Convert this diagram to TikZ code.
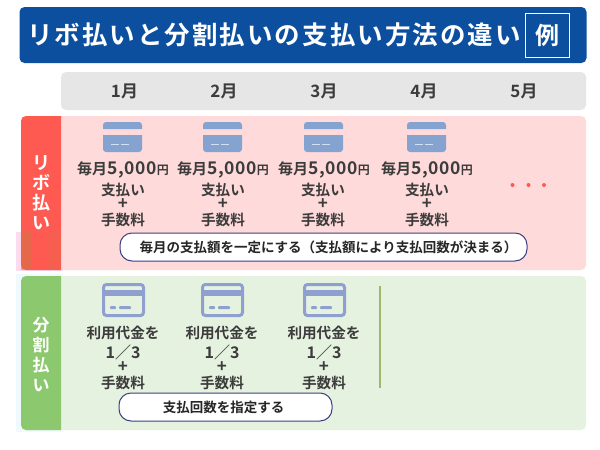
\documentclass[tikz,border=0pt]{standalone}
\usepackage{fontspec}
\setmainfont{Noto Sans CJK JP}[BoldFont={Noto Sans CJK JP Bold}]
\usetikzlibrary{positioning}
\definecolor{titleblue}{HTML}{0B4F9E}
\definecolor{monthgray}{HTML}{E6E6E6}
\definecolor{ribored}{HTML}{FF5A52}
\definecolor{ribopink}{HTML}{FFDADA}
\definecolor{bungreen}{HTML}{8CC86E}
\definecolor{bunpale}{HTML}{E6F2E0}
\definecolor{cardblue}{HTML}{84A3D0}
\definecolor{cardviolet}{HTML}{8E9FD0}
\definecolor{pillblue}{HTML}{3B3F85}
\definecolor{inkgray}{HTML}{3C3C3C}
\definecolor{stopgreen}{HTML}{9DB86A}
\tikzset{
    every node/.style={inner sep=0pt,outer sep=0pt},
    panel/.style={rounded corners=5pt},
    month/.style={font=\fontsize{17}{17}\selectfont\bfseries,text=inkgray},
    sidetext/.style={font=\fontsize{18}{20}\selectfont\bfseries,text=white,align=center},
    body/.style={font=\fontsize{14.6}{14.6}\selectfont\bfseries,text=inkgray},
    plus/.style={font=\fontsize{17}{17}\selectfont\bfseries,text=inkgray},
    part/.style={font=\fontsize{16}{16}\selectfont\bfseries,text=inkgray},
    pill/.style={draw=pillblue,line width=1pt,fill=white,rounded corners=12pt,minimum height=28pt,
        font=\fontsize{13.5}{13.5}\selectfont\bfseries,text=black!85},
    carddash/.style={fill=white!65!cardblue,minimum width=8pt,minimum height=1.2pt},
    cardframe/.style={draw=cardviolet,line width=3pt,fill=bunpale,rounded corners=3pt,minimum width=40pt,minimum height=31pt},
    cardband/.style={fill=cardviolet,minimum width=40pt,minimum height=6pt},
    cardmark/.style={fill=cardviolet,rounded corners=1pt,minimum height=3pt},
    dot/.style={circle,fill=ribored,minimum size=4pt},
}
\newcommand{\fivek}{{\fontsize{15}{15}\selectfont 毎月}{\fontsize{17.5}{17.5}\selectfont\addfontfeature{LetterSpace=4}5,000}{\fontsize{12}{12}\selectfont 円}}
\begin{document}
\begin{tikzpicture}[x=1pt,y=-1pt]
    \useasboundingbox (0,0) rectangle (600,450);
    \fill[white] (0,0) rectangle (600,450);

    % title
    \node[fill=titleblue,panel,minimum width=567pt,minimum height=56pt] (title) at (303,35) {};
    \node[font=\fontsize{25.5}{25.5}\selectfont\bfseries\addfontfeature{LetterSpace=8},text=white] (titletext) at (274,34.5) {リボ払いと分割払いの支払い方法の違い};
    \node[draw=white,line width=0.8pt,minimum size=44pt,font=\fontsize{24}{24}\selectfont\bfseries,text=white] (rei) at (547,35) {例};

    % months
    \node[fill=monthgray,panel,minimum width=525pt,minimum height=38pt] (months) at (323.5,91) {};
    \node[month] (m1) at (124.5,91) {1月};
    \node[month] (m2) at (224,91) {2月};
    \node[month] (m3) at (324,91) {3月};
    \node[month] (m4) at (424,91) {4月};
    \node[month] (m5) at (524,91) {5月};

    % haze behind the panels
    \fill[magenta!14] (16,232) rectangle (63,271);
    \fill[cyan!6] (16,274) rectangle (63,432);

    % ribo row
    \node[fill=ribopink,panel,minimum width=565pt,minimum height=154pt] (ribo) at (303.5,193) {};
    \fill[ribored] (61,116) [rounded corners=5pt] -- (21,116) -- (21,270) [sharp corners] -- (61,270) -- cycle;
    \fill[brown!70!ribored,opacity=.55] (21,232) rectangle (32,270);
    \fill[brown!70!ribored,opacity=.2] (48,232) rectangle (61,270);
    \node[sidetext] (ribolabel) at (41,193) {リ\\ボ\\払\\い};

    \fill[cardblue] (103,129) [rounded corners=3pt] -- (103,122) -- (142,122) [sharp corners] -- (142,129) -- cycle;
    \fill[cardblue] (103,135) [rounded corners=3pt] -- (103,152) -- (142,152) [sharp corners] -- (142,135) -- cycle;
    \node[carddash] (a1d) at (114.5,144.5) {};
    \node[carddash] (a1e) at (124.5,144.5) {};
    \fill[cardblue] (203,129) [rounded corners=3pt] -- (203,122) -- (242,122) [sharp corners] -- (242,129) -- cycle;
    \fill[cardblue] (203,135) [rounded corners=3pt] -- (203,152) -- (242,152) [sharp corners] -- (242,135) -- cycle;
    \node[carddash] (a2d) at (214.5,144.5) {};
    \node[carddash] (a2e) at (224.5,144.5) {};
    \fill[cardblue] (304,129) [rounded corners=3pt] -- (304,122) -- (343,122) [sharp corners] -- (343,129) -- cycle;
    \fill[cardblue] (304,135) [rounded corners=3pt] -- (304,152) -- (343,152) [sharp corners] -- (343,135) -- cycle;
    \node[carddash] (a3d) at (315.5,144.5) {};
    \node[carddash] (a3e) at (325.5,144.5) {};
    \fill[cardblue] (407,129) [rounded corners=3pt] -- (407,122) -- (446,122) [sharp corners] -- (446,129) -- cycle;
    \fill[cardblue] (407,135) [rounded corners=3pt] -- (407,152) -- (446,152) [sharp corners] -- (446,135) -- cycle;
    \node[carddash] (a4d) at (418.5,144.5) {};
    \node[carddash] (a4e) at (428.5,144.5) {};

    \node[body] (a1pay) at (123,169.5) {\fivek};
    \node[body] (a1shi) at (123,190) {支払い};
    \node[plus] (a1plus) at (123,204) {+};
    \node[body] (a1fee) at (123,220) {手数料};
    \node[body] (a2pay) at (223,169.5) {\fivek};
    \node[body] (a2shi) at (223,190) {支払い};
    \node[plus] (a2plus) at (223,204) {+};
    \node[body] (a2fee) at (223,220) {手数料};
    \node[body] (a3pay) at (324,169.5) {\fivek};
    \node[body] (a3shi) at (323,190) {支払い};
    \node[plus] (a3plus) at (323,204) {+};
    \node[body] (a3fee) at (323,220) {手数料};
    \node[body] (a4pay) at (427,169.5) {\fivek};
    \node[body] (a4shi) at (427,190) {支払い};
    \node[plus] (a4plus) at (427,204) {+};
    \node[body] (a4fee) at (427,220) {手数料};

    \node[dot] (d1) at (512.5,185) {};
    \node[dot] (d2) at (528.5,185) {};
    \node[dot] (d3) at (544,185) {};

    \node[pill,minimum width=407pt] (ribonote) at (323.5,247) {\hspace*{10pt}毎月の支払額を一定にする（支払額により支払回数が決まる）};

    % bunkatsu row
    \node[fill=bunpale,panel,minimum width=565pt,minimum height=154pt] (bun) at (303.5,353) {};
    \fill[bungreen] (61,276) [rounded corners=5pt] -- (21,276) -- (21,430) [sharp corners] -- (61,430) -- cycle;
    \node[sidetext,font=\fontsize{17}{20}\selectfont\bfseries] (bunlabel) at (41,355) {分\\割\\払\\い};

    \node[cardframe] (b1f) at (123.5,300) {};
    \node[cardband] (b1b) at (123.5,293) {};
    \node[cardmark,minimum width=6pt] (b1d) at (113,307.5) {};
    \node[cardmark,minimum width=12pt] (b1e) at (125,307.5) {};
    \node[cardframe] (b2f) at (222.5,300) {};
    \node[cardband] (b2b) at (222.5,293) {};
    \node[cardmark,minimum width=6pt] (b2d) at (212,307.5) {};
    \node[cardmark,minimum width=12pt] (b2e) at (224,307.5) {};
    \node[cardframe] (b3f) at (324.5,300) {};
    \node[cardband] (b3b) at (324.5,293) {};
    \node[cardmark,minimum width=6pt] (b3d) at (314,307.5) {};
    \node[cardmark,minimum width=12pt] (b3e) at (326,307.5) {};

    \node[body] (b1use) at (123,333) {利用代金を};
    \node[part] (b1part) at (123,352.5) {1／3};
    \node[plus] (b1plus) at (123,367) {+};
    \node[body] (b1fee) at (123,383) {手数料};
    \node[body] (b2use) at (222,333) {利用代金を};
    \node[part] (b2part) at (222,352.5) {1／3};
    \node[plus] (b2plus) at (222,367) {+};
    \node[body] (b2fee) at (222,383) {手数料};
    \node[body] (b3use) at (324,333) {利用代金を};
    \node[part] (b3part) at (324,352.5) {1／3};
    \node[plus] (b3plus) at (324,367) {+};
    \node[body] (b3fee) at (324,383) {手数料};

    \coordinate (stopa) at (380,286);
    \coordinate (stopb) at (380,388);
    \draw[line width=1.8pt,color=stopgreen] (stopa) -- (stopb);

    \node[pill,minimum width=213pt] (bunnote) at (225.5,407) {支払回数を指定する\hspace*{4pt}};
\end{tikzpicture}
\end{document}
